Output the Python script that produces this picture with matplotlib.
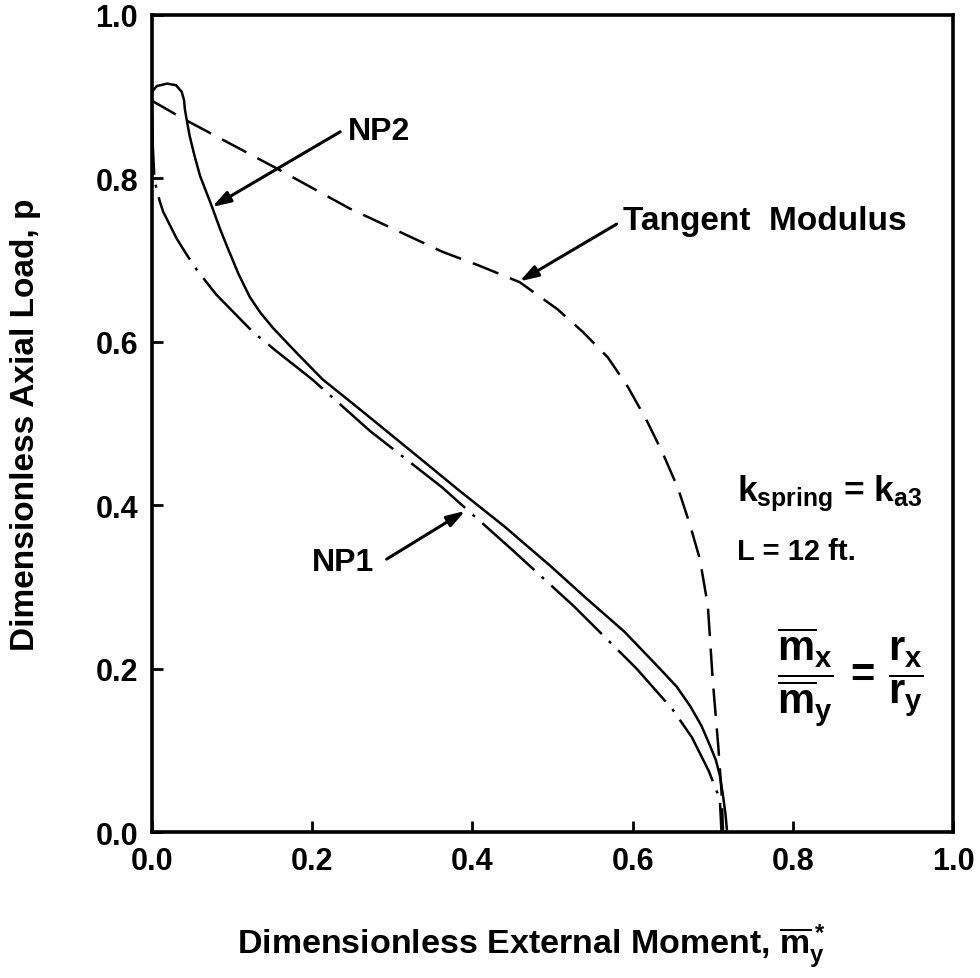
import matplotlib
matplotlib.use('Agg')
import matplotlib.pyplot as plt

plt.rcParams['font.family'] = ['Liberation Sans', 'DejaVu Sans']
plt.rcParams['font.weight'] = 'bold'
plt.rcParams['mathtext.fontset'] = 'custom'
plt.rcParams['mathtext.rm'] = 'Liberation Sans:bold'
plt.rcParams['mathtext.it'] = 'Liberation Sans:bold'
plt.rcParams['mathtext.bf'] = 'Liberation Sans:bold'

# NP2 curve (solid)
np2_m = [0.000, 0.006, 0.019, 0.030, 0.037, 0.040, 0.041, 0.044, 0.047, 0.053,
         0.060, 0.075, 0.085, 0.094, 0.108, 0.122, 0.135, 0.151, 0.181, 0.213,
         0.260, 0.300, 0.340, 0.381, 0.440, 0.497, 0.540, 0.590, 0.634, 0.655,
         0.672, 0.686, 0.697, 0.704, 0.709, 0.713, 0.716, 0.718]
np2_p = [0.906, 0.913, 0.916, 0.914, 0.906, 0.896, 0.885, 0.868, 0.852, 0.828,
         0.803, 0.765, 0.738, 0.716, 0.683, 0.655, 0.636, 0.617, 0.586, 0.554,
         0.517, 0.485, 0.453, 0.420, 0.374, 0.326, 0.288, 0.245, 0.200, 0.178,
         0.154, 0.130, 0.105, 0.088, 0.069, 0.044, 0.022, 0.000]

# NP1 curve (dash-dot)
np1_m = [0.000, 0.001, 0.003, 0.006, 0.010, 0.014, 0.031, 0.045, 0.056, 0.080,
         0.101, 0.126, 0.156, 0.200, 0.272, 0.362, 0.449, 0.526, 0.605, 0.650,
         0.674, 0.695, 0.709, 0.711]
np1_p = [0.890, 0.840, 0.800, 0.785, 0.771, 0.759, 0.726, 0.704, 0.688, 0.658,
         0.637, 0.612, 0.588, 0.554, 0.491, 0.422, 0.346, 0.277, 0.200, 0.150,
         0.116, 0.075, 0.040, 0.000]

# Tangent modulus curve (dashed)
tm_m = [0.000, 0.039, 0.156, 0.247, 0.363, 0.409, 0.459, 0.506, 0.538, 0.569,
        0.594, 0.618, 0.638, 0.657, 0.672, 0.684, 0.694, 0.700, 0.707, 0.711,
        0.713]
tm_p = [0.895, 0.873, 0.812, 0.763, 0.710, 0.693, 0.673, 0.640, 0.612, 0.581,
        0.545, 0.503, 0.463, 0.420, 0.375, 0.334, 0.277, 0.187, 0.105, 0.050,
        0.000]

ticks = [0.0, 0.2, 0.4, 0.6, 0.8, 1.0]
tick_labels = ['0.0', '0.2', '0.4', '0.6', '0.8', '1.0']

fig = plt.figure(figsize=(9.8, 9.79), dpi=100)
ax = fig.add_axes([0.1551, 0.1491, 0.8173, 0.8346])

ax.plot(np2_m, np2_p, color='black', lw=1.8, solid_capstyle='round')
ax.plot(np1_m, np1_p, color='black', lw=1.8, dashes=(28, 4, 1.2, 4))
ax.plot(tm_m, tm_p, color='black', lw=1.8, dashes=(11, 5))

ax.set_xlim(0, 1)
ax.set_ylim(0, 1)
ax.set_xticks(ticks)
ax.set_yticks(ticks)
ax.set_xticklabels(tick_labels)
ax.set_yticklabels(tick_labels)
ax.tick_params(direction='in', length=8, width=2, labelsize=22, pad=10)
for s in ax.spines.values():
    s.set_linewidth(2.6)

ax.set_xlabel(r'Dimensionless External Moment, $\overline{m}^*_y$',
              fontsize=24.5, fontweight='bold')
ax.set_ylabel('Dimensionless Axial Load, p', fontsize=24, fontweight='bold')
ax.xaxis.set_label_coords(0.473, -0.109)
ax.yaxis.set_label_coords(-0.138, 0.5)

arrow = dict(arrowstyle='-|>,head_length=1.1,head_width=0.35', color='black',
             lw=2.2, shrinkA=0, shrinkB=0)

# curve labels with arrows
ax.text(0.244, 0.858, 'NP2', fontsize=23, fontweight='bold', va='center')
ax.annotate('', xy=(0.075, 0.765), xytext=(0.235, 0.857), arrowprops=arrow)

ax.text(0.588, 0.748, 'Tangent  Modulus', fontsize=24, fontweight='bold',
        va='center')
ax.annotate('', xy=(0.459, 0.674), xytext=(0.580, 0.744), arrowprops=arrow)

ax.text(0.200, 0.330, 'NP1', fontsize=23, fontweight='bold', va='center')
ax.annotate('', xy=(0.391, 0.393), xytext=(0.293, 0.334), arrowprops=arrow)

# parameters
ax.text(0.730, 0.415, r'$k_{spring}$ = $k_{a3}$', fontsize=25.5, va='center')
ax.text(0.730, 0.344, 'L = 12 ft.', fontsize=21, fontweight='bold',
        va='center')
ax.text(0.780, 0.190,
        r'$\dfrac{\overline{m}_x}{\overline{m}_y}\,=\,\dfrac{r_x}{r_y}$',
        fontsize=30, va='center')

fig.savefig('out.png', dpi=100)
